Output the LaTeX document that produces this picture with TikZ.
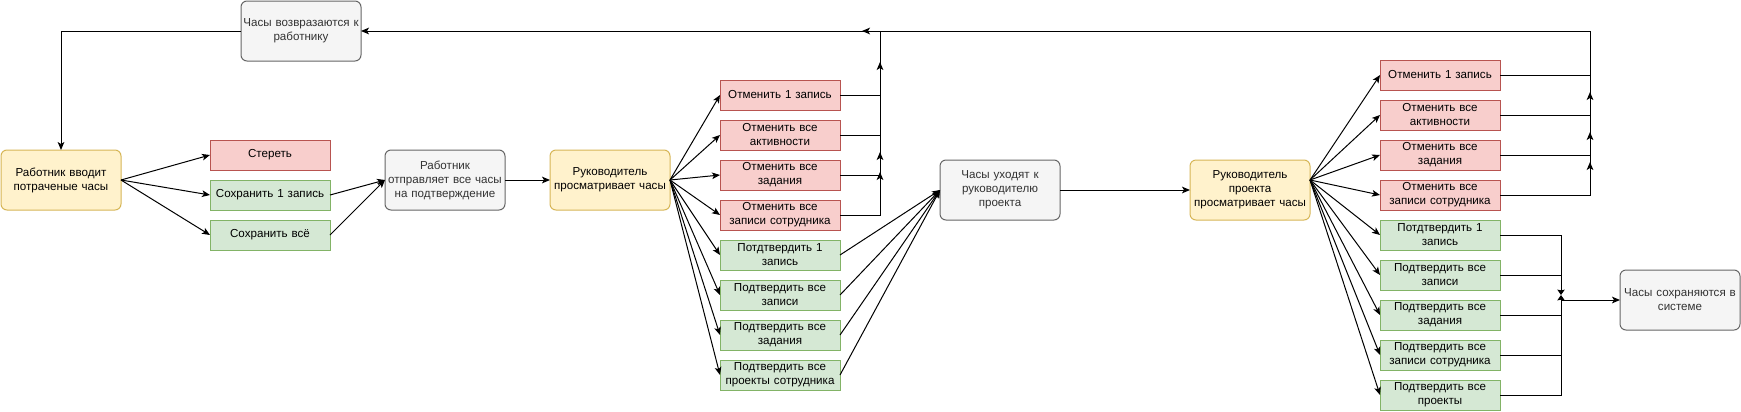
\documentclass[tikz,border=0pt]{standalone}
\usepackage{fontspec}
\setmainfont{Liberation Sans}
\usepackage{xcolor}
\usetikzlibrary{arrows.meta, positioning}

\definecolor{yelfill}{HTML}{FFF2CC}
\definecolor{yelline}{HTML}{D6B656}
\definecolor{redfill}{HTML}{F8CECC}
\definecolor{redline}{HTML}{B85450}
\definecolor{grnfill}{HTML}{D5E8D4}
\definecolor{grnline}{HTML}{82B366}
\definecolor{grayfill}{HTML}{F5F5F5}
\definecolor{grayline}{HTML}{666666}
\definecolor{graytext}{HTML}{333333}

\begin{document}
\begin{tikzpicture}[
x=0.75pt, y=-0.75pt,
node distance=7.5pt and 30pt,
every node/.style={font=\fontsize{8.7}{10.5}\selectfont},
boxnode/.style={rectangle, line width=0.75pt, align=center, outer sep=0pt,
text width=93pt, inner xsep=-1.5pt, inner ysep=0pt, minimum height=22.5pt},
rolenode/.style={boxnode, rounded corners=4.5pt, draw=yelline, fill=yelfill, minimum height=45pt},
statenode/.style={boxnode, rounded corners=4.5pt, draw=grayline, fill=grayfill, text=graytext, minimum height=45pt},
rejectnode/.style={boxnode, draw=redline, fill=redfill},
acceptnode/.style={boxnode, draw=grnline, fill=grnfill},
arrownode/.style={-{Stealth[length=6pt, width=5pt, inset=1.5pt]}, line width=0.75pt, black},
tipnode/.style={-{Stealth[length=4pt, width=5.5pt, inset=0.5pt]}, line width=0.75pt, black},
linenode/.style={line width=0.75pt, black}
]
\useasboundingbox (0,0) rectangle (1741,411);

% employee side
\node[statenode] (back) at (301,31) {Часы возвразаются к\\работнику};
\node[rolenode] (worker) at (61,180) {Работник вводит\\потраченые часы};
\node[rejectnode] (erase) at (270,155) {Стереть};
\node[acceptnode, below=of erase] (saveone) {Сохранить 1 запись};
\node[acceptnode, below=of saveone] (saveall) {Сохранить всё};
\node[statenode] (send) at (445,180) {Работник\\отправляет все часы\\на подтверждение};

% line manager
\node[rolenode] (lead) at (610,180) {Руководитель\\просматривает часы};
\node[rejectnode] (lcone) at (780,95) {Отменить 1 запись};
\node[rejectnode, below=of lcone] (lcact) {Отменить все\\активности};
\node[rejectnode, below=of lcact] (lctask) {Отменить все\\задания};
\node[rejectnode, below=of lctask] (lcemp) {Отменить все\\записи сотрудника};
\node[acceptnode, below=of lcemp] (laone) {Потдтвердить 1\\запись};
\node[acceptnode, below=of laone] (laall) {Подтвердить все\\записи};
\node[acceptnode, below=of laall] (latask) {Подтвердить все\\задания};
\node[acceptnode, below=of latask] (laproj) {Подтвердить все\\проекты сотрудника};

% project manager
\node[statenode] (topm) at (1000,190) {Часы уходят к\\руководителю\\проекта};
\node[rolenode] (pm) at (1250,190) {Руководитель\\проекта\\просматривает часы};
\node[rejectnode] (pcone) at (1440,75) {Отменить 1 запись};
\node[rejectnode, below=of pcone] (pcact) {Отменить все\\активности};
\node[rejectnode, below=of pcact] (pctask) {Отменить все\\задания};
\node[rejectnode, below=of pctask] (pcemp) {Отменить все\\записи сотрудника};
\node[acceptnode, below=of pcemp] (paone) {Потдтвердить 1\\запись};
\node[acceptnode, below=of paone] (paall) {Подтвердить все\\записи};
\node[acceptnode, below=of paall] (patask) {Подтвердить все\\задания};
\node[acceptnode, below=of patask] (paemp) {Подтвердить все\\записи сотрудника};
\node[acceptnode, below=of paemp] (paproj) {Подтвердить все\\проекты};
\node[statenode] (saved) at (1680,300) {Часы сохраняются в\\системе};

% bend points
\coordinate (leadtop) at (880,31);
\coordinate (leadtipa) at (880,62);
\coordinate (leadtipb) at (880,152);
\coordinate (leadtipc) at (880,172);
\coordinate (pmtop) at (1590,31);
\coordinate (pmtipa) at (1590,92);
\coordinate (pmtipb) at (1590,132);
\coordinate (pmtipc) at (1590,162);
\coordinate (pmend) at (862,31);
\coordinate (pmjoin) at (1561,300);
\coordinate (pmmeet) at (1561,295);

\draw[arrownode] (back.west) -| (worker.north);
\foreach \t in {erase,saveone,saveall}
  \draw[arrownode] (worker.east) -- (\t.west);
\draw[arrownode] (saveone.east) -- (send.west);
\draw[arrownode] (saveall.east) -- (send.west);
\draw[arrownode] (send) -- (lead);

\foreach \t in {lcone,lcact,lctask,lcemp,laone,laall,latask,laproj}
  \draw[arrownode] (lead.east) -- (\t.west);
\draw[linenode] (lcemp.east) -| (leadtop);
\draw[linenode] (lcone.east) -| (leadtop);
\draw[arrownode] (lcact.east) -| (leadtipa);
\draw[arrownode] (lctask.east) -| (leadtipb);
\draw[arrownode] (lcemp.east) -| (leadtipc);
\draw[arrownode] (leadtop) -- (back.east);
\foreach \s in {laone,laall,latask,laproj}
  \draw[arrownode] (\s.east) -- (topm.west);
\draw[arrownode] (topm) -- (pm);

\foreach \t in {pcone,pcact,pctask,pcemp,paone,paall,patask,paemp,paproj}
  \draw[arrownode] ([yshift=7.5pt]pm.east) -- (\t.west);
\draw[linenode] (pcemp.east) -| (pmtop);
\draw[linenode] (pcone.east) -| (pmtop);
\draw[arrownode] (pcact.east) -| (pmtipa);
\draw[arrownode] (pctask.east) -| (pmtipb);
\draw[arrownode] (pcemp.east) -| (pmtipc);
\draw[arrownode] (pmtop) -- (pmend);
\draw[tipnode] (paone.east) -| (pmmeet);
\draw[tipnode] (paproj.east) -| (pmmeet);
\foreach \s in {paall,patask,paemp}
  \draw[linenode] (\s.east) -- (\s.east -| pmjoin);
\draw[arrownode] (pmjoin) -- (saved.west);

\end{tikzpicture}
\end{document}
